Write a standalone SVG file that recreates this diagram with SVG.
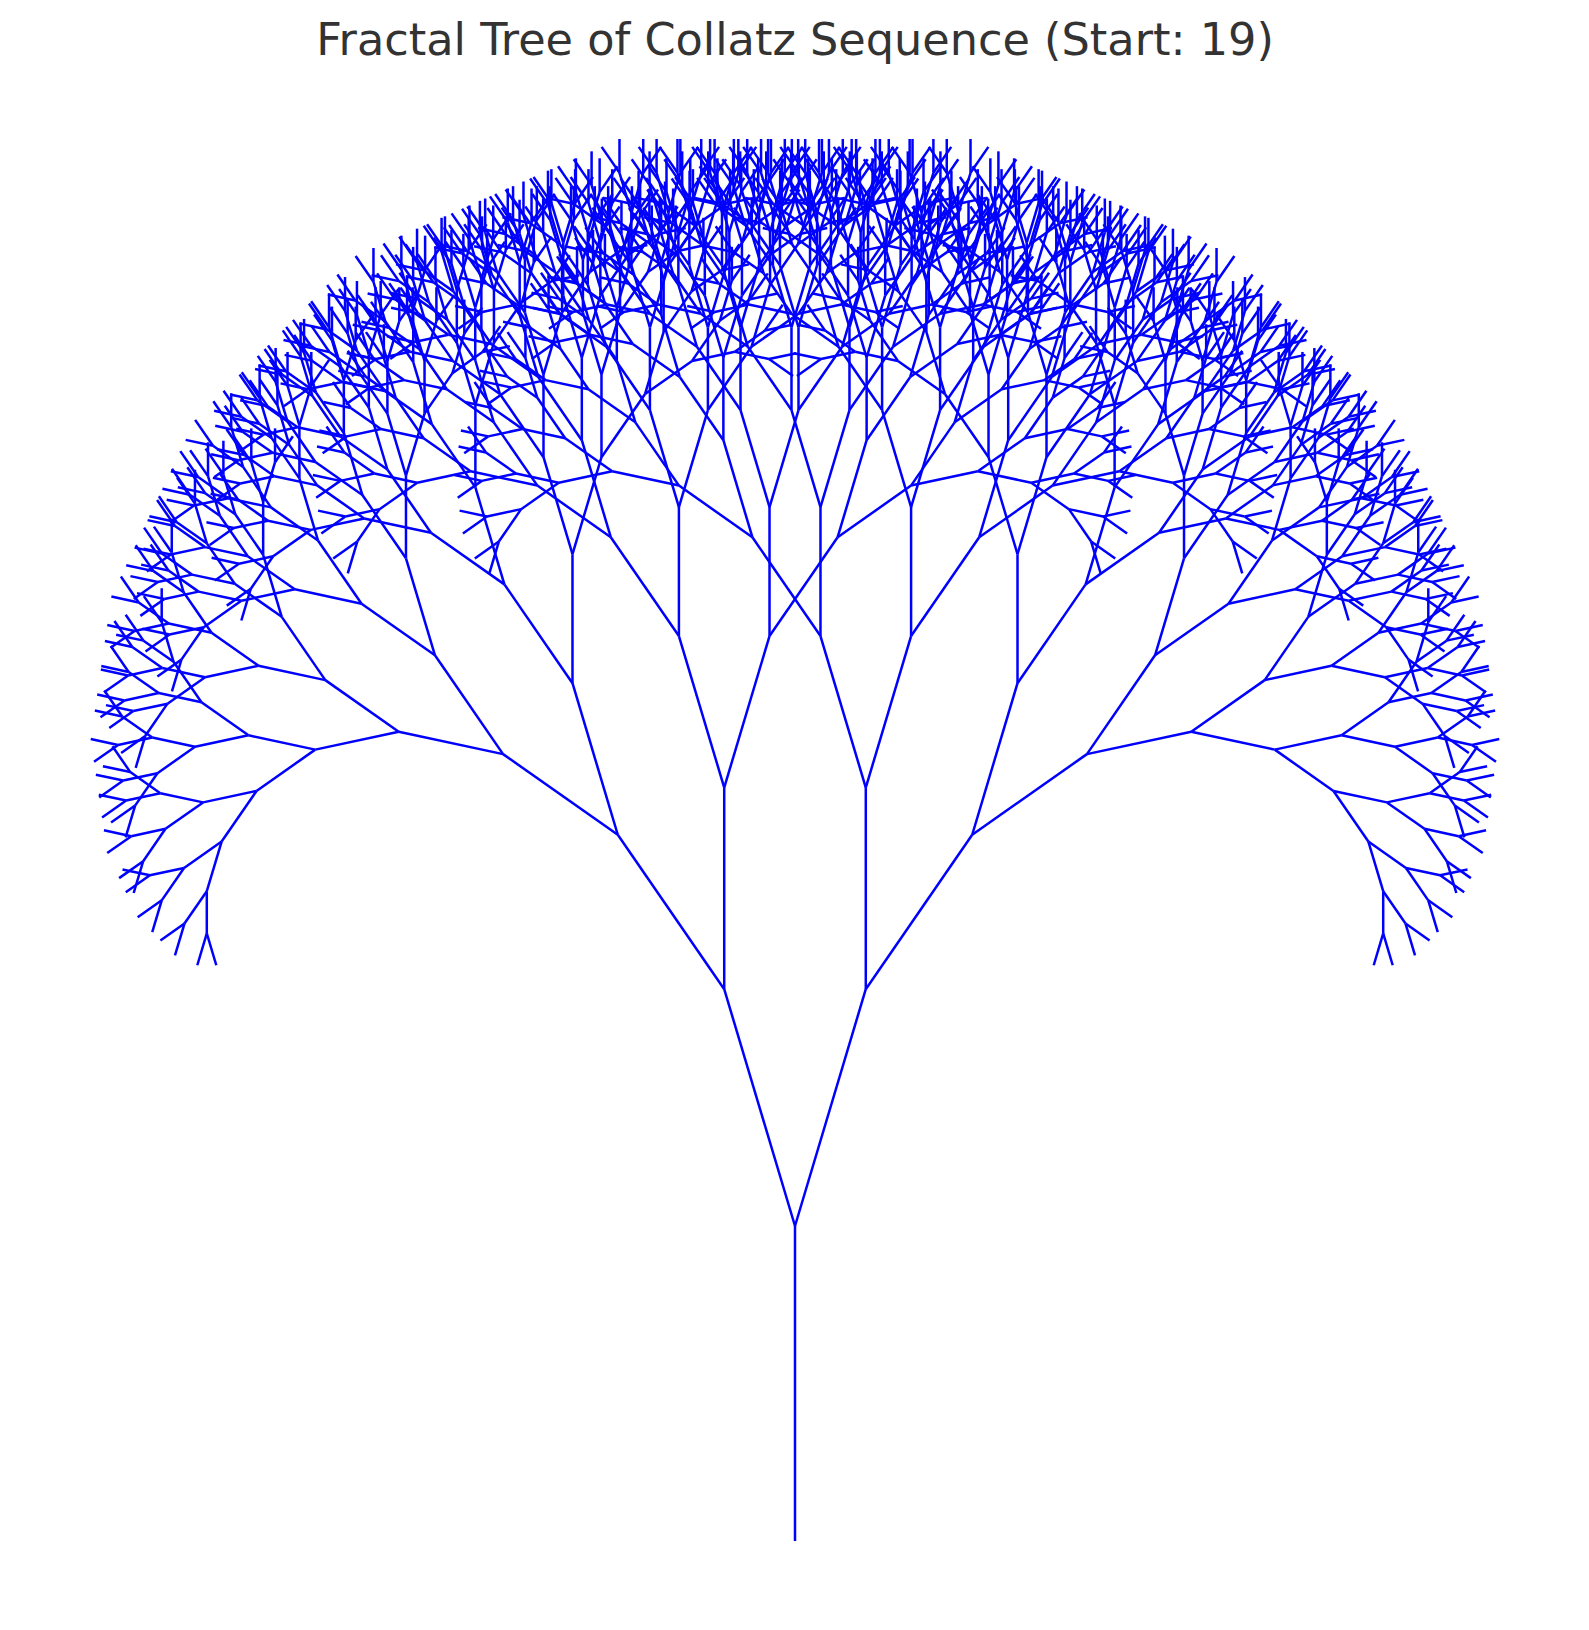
<svg xmlns="http://www.w3.org/2000/svg" xmlns:xlink="http://www.w3.org/1999/xlink" width="1589" height="1630" viewBox="0 0 1589 1630">
<style>
.b{stroke:#0000ff;stroke-width:2.5;stroke-linecap:butt;vector-effect:non-scaling-stroke;fill:none}
.title{font-family:"DejaVu Sans","Liberation Sans",sans-serif;font-size:44.6px;fill:#333333}
</style>
<defs>
<line id="s" class="b" x1="0" y1="0" x2="0" y2="-100"/>
<g id="t0"><use href="#s"/></g>
<g id="t1"><use href="#s"/><use href="#t0" transform="translate(0,-100) rotate(-20) scale(0.8)"/><use href="#t0" transform="translate(0,-100) rotate(20) scale(0.8)"/></g>
<g id="t2"><use href="#s"/><use href="#t1" transform="translate(0,-100) rotate(-20) scale(0.8)"/><use href="#t1" transform="translate(0,-100) rotate(20) scale(0.8)"/></g>
<g id="t3"><use href="#s"/><use href="#t2" transform="translate(0,-100) rotate(-20) scale(0.8)"/><use href="#t2" transform="translate(0,-100) rotate(20) scale(0.8)"/></g>
<g id="t4"><use href="#s"/><use href="#t3" transform="translate(0,-100) rotate(-20) scale(0.8)"/><use href="#t3" transform="translate(0,-100) rotate(20) scale(0.8)"/></g>
<g id="t5"><use href="#s"/><use href="#t4" transform="translate(0,-100) rotate(-20) scale(0.8)"/><use href="#t4" transform="translate(0,-100) rotate(20) scale(0.8)"/></g>
<g id="t6"><use href="#s"/><use href="#t5" transform="translate(0,-100) rotate(-20) scale(0.8)"/><use href="#t5" transform="translate(0,-100) rotate(20) scale(0.8)"/></g>
<g id="t7"><use href="#s"/><use href="#t6" transform="translate(0,-100) rotate(-20) scale(0.8)"/><use href="#t6" transform="translate(0,-100) rotate(20) scale(0.8)"/></g>
<g id="t8"><use href="#s"/><use href="#t7" transform="translate(0,-100) rotate(-20) scale(0.8)"/><use href="#t7" transform="translate(0,-100) rotate(20) scale(0.8)"/></g>
<g id="t9"><use href="#s"/><use href="#t8" transform="translate(0,-100) rotate(-20) scale(0.8)"/><use href="#t8" transform="translate(0,-100) rotate(20) scale(0.8)"/></g>
<g id="t10"><use href="#s"/><use href="#t9" transform="translate(0,-100) rotate(-20) scale(0.8)"/><use href="#t9" transform="translate(0,-100) rotate(20) scale(0.8)"/></g>
</defs>
<rect width="1589" height="1630" fill="#ffffff"/>
<g id="title"><text class="title" x="795" y="55" text-anchor="middle">Fractal Tree of Collatz Sequence (Start: 19)</text></g>
<g id="connectors">
<g id="tree" transform="translate(795,1541) scale(2.587,3.15)"><use href="#t10"/></g>
</g>
</svg>
